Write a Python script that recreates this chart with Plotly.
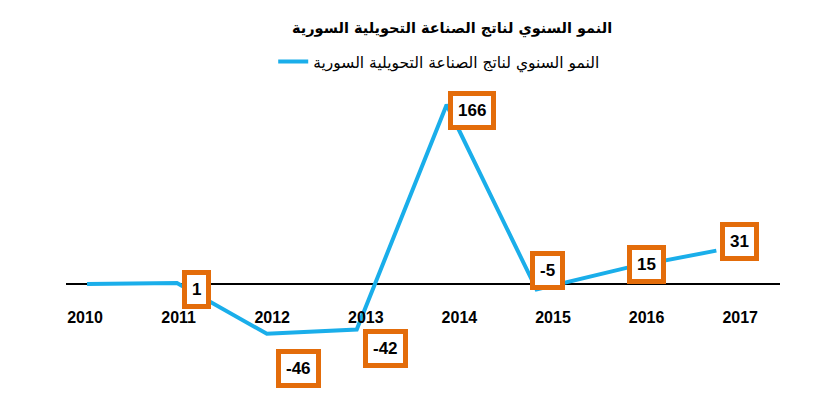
import plotly.graph_objects as go

# datos
years = [2010, 2011, 2012, 2013, 2014, 2015, 2016, 2017]
growth = [0, 1, -46, -42, 166, -5, 15, 31]
labels = ['', '1', '-46', '-42', '166', '-5', '15', '31']

series_name = 'النمو السنوي لناتج الصناعة التحويلية السورية'
title_text = '<b>النمو السنوي لناتج الصناعة التحويلية السورية</b>'

blue = '#1AAEEA'
orange = '#E36C0A'

# desplazamiento de cada etiqueta respecto a su punto (px)
label_shift = [(0, 0), (20, -6), (32, -35), (29, -19), (25, -6), (11, 19), (20, 3), (23, 9)]

fig = go.Figure()

fig.add_trace(go.Scatter(x=years, y=growth, mode='lines', name=series_name,
                         line=dict(color=blue, width=4)))

# traza invisible para el eje de etiquetas
fig.add_trace(go.Scatter(x=years, y=[None] * len(years), xaxis='x2',
                         showlegend=False, hoverinfo='skip'))

for yr, val, txt, (dx, dy) in zip(years, growth, labels, label_shift):
    if not txt:
        continue
    fig.add_annotation(x=yr, y=val, xref='x', yref='y', text='<b>' + txt + '</b>',
                       showarrow=False, xshift=dx, yshift=dy,
                       font=dict(family='Liberation Sans', size=17, color='black'),
                       bgcolor='white', bordercolor=orange, borderwidth=5, borderpad=5)

fig.update_layout(
    width=827, height=409,
    margin=dict(l=58, r=55, t=92, b=27),
    paper_bgcolor='white', plot_bgcolor='white',
    title=dict(text=title_text, x=0.537, y=0.951, xanchor='center', yanchor='middle',
               font=dict(family='DejaVu Sans', size=14.5, color='black')),
    legend=dict(orientation='h', x=0.522, y=1.131, xanchor='center', yanchor='middle',
                font=dict(family='DejaVu Sans', size=15.5, color='black')),
    xaxis=dict(range=[2009.766, 2017.708], visible=False),
    xaxis2=dict(range=[2009.797, 2017.425], overlaying='x', anchor='free', position=0.29,
                tickvals=years, ticktext=['<b>%d</b>' % y for y in years],
                showgrid=False, showline=False, ticks='', zeroline=False,
                tickfont=dict(family='Liberation Sans', size=16, color='black')),
    yaxis=dict(range=[-98, 170.4], showgrid=False, showticklabels=False,
               zeroline=True, zerolinecolor='black', zerolinewidth=2),
)

fig.write_html('out.html')
